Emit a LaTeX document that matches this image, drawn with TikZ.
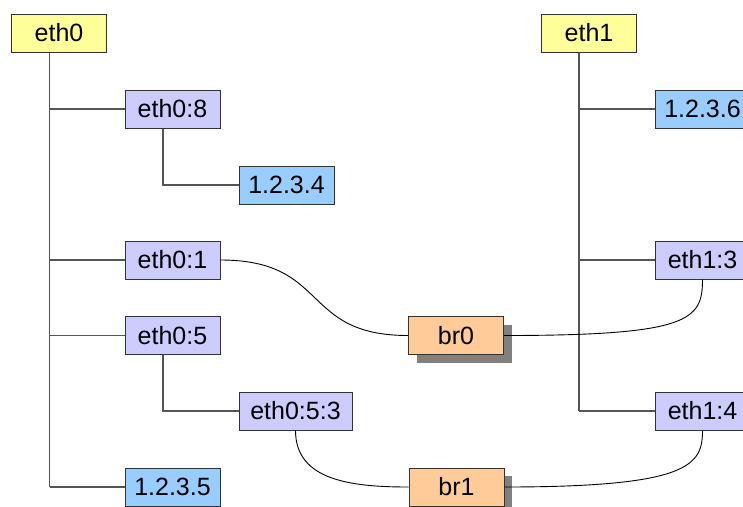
\documentclass[tikz,border=0pt]{standalone}
\usepackage{fontspec}
\setmainfont{Liberation Sans}
\usetikzlibrary{shadows}
\definecolor{cyel}{RGB}{255,255,153}
\definecolor{cpur}{RGB}{204,204,255}
\definecolor{cblu}{RGB}{153,204,255}
\definecolor{cora}{RGB}{255,204,153}
\definecolor{cbord}{RGB}{51,51,51}
\definecolor{ctree}{RGB}{85,85,85}
\definecolor{cshad}{RGB}{128,128,128}
\tikzset{
  box/.style={draw=cbord, line width=1pt, minimum width=95pt, minimum height=38pt, inner sep=0pt,
    font=\fontsize{25}{30}\selectfont, text=black},
  ifc/.style={box, fill=cyel},
  alias/.style={box, fill=cpur},
  addr/.style={box, fill=cblu},
  bridge/.style={box, fill=cora, drop shadow={shadow xshift=8pt, shadow yshift=-8pt, fill=cshad, opacity=1}},
  tree/.style={draw=ctree, line width=1.1pt},
  link/.style={draw=black, line width=0.9pt},
}
\begin{document}
\begin{tikzpicture}[x=1pt,y=-1pt]
\useasboundingbox (0,0) rectangle (743,506);
\clip (0,0) rectangle (743,506);
\fill[white] (0,0) rectangle (743,506);
% trunk coordinates
\coordinate (ta) at (49.5,487);
\coordinate (tb) at (579,411);
\coordinate (sa) at (163,185);
\coordinate (sb) at (163,411);
% nodes
\node[ifc] (eth0) at (59,33) {eth0};
\node[ifc] (eth1) at (589,33) {eth1};
\node[alias] (e08) at (172.5,109) {eth0:8};
\node[addr] (a4) at (286.5,185) {1.2.3.4};
\node[alias] (e01) at (172.5,260) {eth0:1};
\node[alias] (e05) at (172.5,335.5) {eth0:5};
\node[alias, minimum width=113pt] (e053) at (295.5,411) {eth0:5:3};
\node[addr] (a5) at (172.5,487) {1.2.3.5};
\node[addr] (a6) at (702.5,109) {1.2.3.6};
\node[alias] (e13) at (702.5,260) {eth1:3};
\node[alias] (e14) at (702.5,411) {eth1:4};
% tree lines
\draw[tree] (eth0.south -| ta) -- (ta);
\draw[tree] (ta |- e08) -- (e08.west);
\draw[tree] (ta |- e01) -- (e01.west);
\draw[tree] (ta |- e05) -- (e05.west);
\draw[tree] (ta) -- (a5.west);
\draw[tree] (e08.south -| sa) -- (sa) -- (a4.west);
\draw[tree] (e05.south -| sb) -- (sb) -- (e053.west);
\draw[tree] (eth1.south -| tb) -- (tb);
\draw[tree] (tb |- a6) -- (a6.west);
\draw[tree] (tb |- e13) -- (e13.west);
\draw[tree] (tb) -- (e14.west);
% bridges
\node[bridge] (br0) at (456,335.5) {br0};
\node[bridge] (br1) at (456.5,487) {br1};
% links
\draw[link] (e01.east) .. controls (330,260) and (300,335.5) .. (br0.west);
\draw[link] (br0.east) .. controls (690,335.5) and (702.5,320) .. (e13.south);
\draw[link] (e053.south) .. controls (295.5,480) and (350,487) .. (br1.west);
\draw[link] (br1.east) .. controls (690,487) and (702.5,465) .. (e14.south);
\end{tikzpicture}
\end{document}
